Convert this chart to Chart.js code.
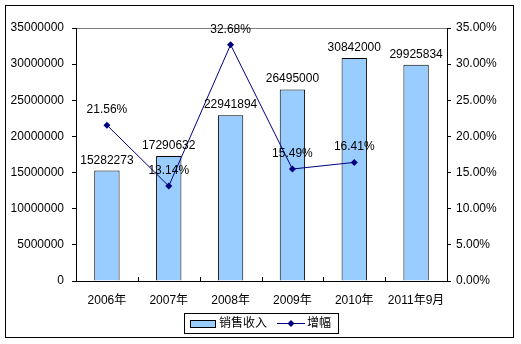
<!DOCTYPE html>
<html>
<head>
<meta charset="utf-8">
<script src="https://cdn.jsdelivr.net/npm/chart.js@4/dist/chart.umd.min.js"></script>
<style>
  html, body { margin: 0; padding: 0; background: #fff; }
  #wrap { width: 521px; height: 344px; }
</style>
</head>
<body>
<div id="wrap"><canvas id="chartCanvas" width="521" height="344"></canvas></div>
<script>
const categories = ['2006年', '2007年', '2008年', '2009年', '2010年', '2011年9月'];
const salesRevenue = [15282273, 17290632, 22941894, 26495000, 30842000, 29925834];
const growthPct = [21.56, 13.14, 32.68, 15.49, 16.41, null];
const leftTicks = [0, 5000000, 10000000, 15000000, 20000000, 25000000, 30000000, 35000000];
const rightTicks = [0, 5, 10, 15, 20, 25, 30, 35];

const FONT = '12px "Liberation Sans", Arial, "Noto Sans CJK SC", sans-serif';
const barFill = '#99CCFF', lineColor = '#000080';

// frame, top border of plot, inner x ticks, value labels and boxed legend
const decorPlugin = {
  id: 'decor',
  beforeDraw(c) {
    const ctx = c.ctx, a = c.chartArea;
    ctx.save();
    ctx.fillStyle = '#fff'; ctx.fillRect(0, 0, c.width, c.height);
    ctx.strokeStyle = '#000'; ctx.lineWidth = 1;
    ctx.strokeRect(5.5, 5.5, 508, 332);
    ctx.strokeStyle = '#808080';
    ctx.beginPath(); ctx.moveTo(a.left, Math.round(a.top) + 0.5); ctx.lineTo(a.right, Math.round(a.top) + 0.5); ctx.stroke();
    ctx.restore();
  },
  afterDatasetsDraw(c) {
    const ctx = c.ctx, a = c.chartArea, x = c.scales.x;
    ctx.save();
    ctx.strokeStyle = '#000'; ctx.lineWidth = 1;
    const n = categories.length, step = (a.right - a.left) / n;
    for (let i = 1; i < n; i++) {
      const px = Math.round(a.left + i * step) + 0.5;
      ctx.beginPath(); ctx.moveTo(px, a.bottom - 4); ctx.lineTo(px, a.bottom); ctx.stroke();
    }
    ctx.font = FONT; ctx.fillStyle = '#000'; ctx.textAlign = 'center'; ctx.textBaseline = 'alphabetic';
    c.getDatasetMeta(0).data.forEach((el, i) => ctx.fillText(String(salesRevenue[i]), el.x, el.y - 7));
    c.getDatasetMeta(1).data.forEach((el, i) => { if (growthPct[i] != null) ctx.fillText(growthPct[i].toFixed(2) + '%', el.x, el.y - 12); });

    // legend
    ctx.strokeRect(184.5, 313.5, 154, 20);
    ctx.fillStyle = barFill; ctx.fillRect(190, 320, 25, 7);
    ctx.strokeRect(190.5, 320.5, 25, 7);
    ctx.fillStyle = '#000'; ctx.textAlign = 'left'; ctx.textBaseline = 'middle';
    ctx.fillText(c.data.datasets[0].label, 219, 324);
    ctx.strokeStyle = lineColor;
    ctx.beginPath(); ctx.moveTo(277, 323.5); ctx.lineTo(305, 323.5); ctx.stroke();
    ctx.fillStyle = lineColor;
    ctx.beginPath(); ctx.moveTo(291, 320); ctx.lineTo(294.5, 323.5); ctx.lineTo(291, 327); ctx.lineTo(287.5, 323.5); ctx.closePath(); ctx.fill();
    ctx.fillStyle = '#000';
    ctx.fillText(c.data.datasets[1].label, 307, 324);
    ctx.restore();
  }
};

function initChart() {
  const ctx = document.getElementById('chartCanvas').getContext('2d');
  const data = {
    labels: categories,
    datasets: [
      { type: 'bar', label: '销售收入', data: salesRevenue, yAxisID: 'y', backgroundColor: barFill, borderColor: '#000', borderWidth: 1, barPercentage: 0.41, categoryPercentage: 1, order: 2 },
      { type: 'line', label: '增幅', data: growthPct, yAxisID: 'y1', borderColor: lineColor, backgroundColor: lineColor, borderWidth: 1, pointStyle: 'rectRot', pointRadius: 3.5, pointBorderWidth: 0, tension: 0, spanGaps: false, order: 1 }
    ]
  };
  const options = {
    responsive: false, animation: false, devicePixelRatio: 1,
    layout: { padding: { left: 6, right: 6, top: 28, bottom: 6 } },
    plugins: { legend: { display: false }, title: { display: false }, tooltip: { enabled: false } },
    scales: {
      x: {
        offset: true,
        grid: { display: false, drawTicks: false },
        border: { display: true, color: '#000', width: 1 },
        ticks: { color: '#000', font: { family: '"Liberation Sans", Arial, "Noto Sans CJK SC", sans-serif', size: 12 }, padding: 12, maxRotation: 0, autoSkip: false },
        afterFit: s => { s.height = 57; }
      },
      y: {
        position: 'left', min: 0, max: 35000000,
        afterBuildTicks: s => { s.ticks = leftTicks.map(v => ({ value: v })); },
        grid: { drawOnChartArea: false, drawTicks: true, tickLength: 4, color: '#000' },
        border: { display: true, color: '#000', width: 1 },
        ticks: { color: '#000', font: { family: '"Liberation Sans", Arial, sans-serif', size: 12 }, padding: 8, callback: v => String(v) },
        afterFit: s => { s.width = 70; }
      },
      y1: {
        position: 'right', min: 0, max: 35,
        afterBuildTicks: s => { s.ticks = rightTicks.map(v => ({ value: v })); },
        grid: { drawOnChartArea: false, drawTicks: true, tickLength: 4, color: '#000' },
        border: { display: true, color: '#000', width: 1 },
        ticks: { color: '#000', font: { family: '"Liberation Sans", Arial, sans-serif', size: 12 }, padding: 5, callback: v => Number(v).toFixed(2) + '%' },
        afterFit: s => { s.width = 68; }
      }
    }
  };
  new Chart(ctx, { data: data, options: options, plugins: [decorPlugin] });
}

document.addEventListener('DOMContentLoaded', initChart);
</script>
</body>
</html>
